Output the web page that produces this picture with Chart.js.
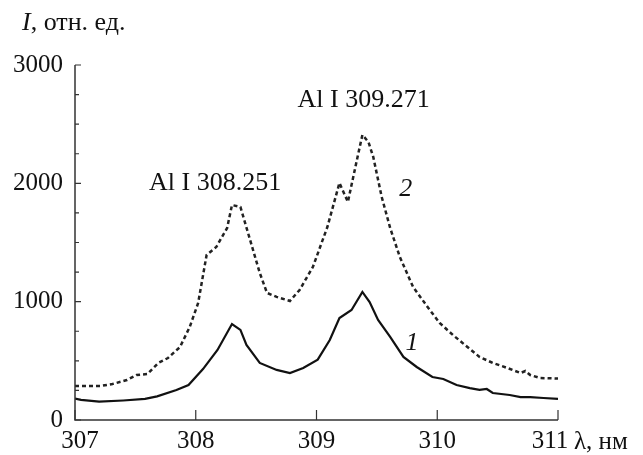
<!DOCTYPE html>
<html lang="ru">
<head>
    <meta charset="UTF-8">
    <title>Al I spectrum</title>
    <script src="https://cdn.jsdelivr.net/npm/chart.js"></script>
    <style>
        html, body { margin: 0; padding: 0; background: #fff; }
        #wrap { width: 643px; height: 455px; }
    </style>
</head>
<body>
<div id="wrap"><canvas id="dataChart"></canvas></div>

<script>
    // wavelength (nm) and intensity
    const wl1 = [307.00, 307.05, 307.20, 307.40, 307.58, 307.68, 307.84, 307.94, 308.06, 308.18, 308.30, 308.37, 308.42, 308.53, 308.67, 308.78, 308.89, 309.01, 309.11, 309.19, 309.29, 309.38, 309.44, 309.51, 309.61, 309.72, 309.83, 309.96, 310.05, 310.16, 310.27, 310.35, 310.41, 310.46, 310.60, 310.69, 310.77, 310.88, 311.00];
    const int1 = [180, 170, 155, 165, 178, 200, 254, 296, 430, 592, 811, 761, 634, 482, 423, 397, 440, 510, 676, 862, 930, 1082, 997, 845, 702, 533, 448, 363, 347, 296, 270, 254, 262, 228, 211, 194, 194, 186, 178];

    const wl2 = [307.00, 307.21, 307.31, 307.43, 307.51, 307.60, 307.69, 307.77, 307.87, 307.95, 308.02, 308.09, 308.17, 308.26, 308.30, 308.37, 308.45, 308.53, 308.59, 308.67, 308.78, 308.86, 308.97, 309.09, 309.19, 309.26, 309.34, 309.38, 309.43, 309.47, 309.54, 309.61, 309.69, 309.80, 309.92, 310.02, 310.13, 310.25, 310.35, 310.46, 310.58, 310.69, 310.73, 310.77, 310.85, 311.00];
    const int2 = [287, 287, 304, 338, 380, 389, 482, 524, 617, 786, 989, 1395, 1462, 1623, 1817, 1800, 1522, 1243, 1074, 1040, 1006, 1099, 1293, 1631, 2003, 1843, 2223, 2409, 2350, 2223, 1885, 1623, 1378, 1124, 955, 820, 718, 617, 533, 482, 440, 397, 414, 380, 355, 350];

    const xTicks = [307, 308, 309, 310, 311];
    const yTicks = [0, 1000, 2000, 3000];

    const labels = [
        { text: 'Al I 308.251', x: 308.16, y: 2000, italic: false },
        { text: 'Al I 309.271', x: 309.39, y: 2700, italic: false },
        { text: '2', x: 309.74, y: 1950, italic: true },
        { text: '1', x: 309.79, y: 650, italic: true }
    ];

    const FONT = '"Liberation Serif", "Times New Roman", serif';

    function toPoints(xs, ys) {
        return xs.map((x, i) => ({ x: x, y: ys[i] }));
    }

    // axes drawn by hand: inward ticks, minor ticks on y, x labels
    const axesPlugin = {
        id: 'axesPlugin',
        afterDraw(chart) {
            const ctx = chart.ctx;
            const xs = chart.scales.x, ys = chart.scales.y;
            const left = xs.left, bottom = ys.bottom;
            ctx.save();
            ctx.strokeStyle = '#333';
            ctx.lineWidth = 1.5;
            ctx.beginPath();
            ctx.moveTo(left, ys.top);
            ctx.lineTo(left, bottom);
            ctx.lineTo(xs.right, bottom);
            ctx.stroke();

            ctx.lineWidth = 1.2;
            ctx.beginPath();
            for (let v = 0; v <= 3000; v += 250) {
                const py = ys.getPixelForValue(v);
                const len = v % 1000 === 0 ? 6 : 4;
                ctx.moveTo(left, py);
                ctx.lineTo(left + len, py);
            }
            xTicks.forEach(v => {
                const px = xs.getPixelForValue(v);
                ctx.moveTo(px, bottom);
                ctx.lineTo(px, bottom - 10);
            });
            ctx.stroke();

            ctx.fillStyle = '#111';
            ctx.textBaseline = 'middle';
            ctx.textAlign = 'center';

            // x tick labels; the end ones sit a little inside
            ctx.font = '25px ' + FONT;
            xTicks.forEach((v, i) => {
                let px = xs.getPixelForValue(v);
                if (i === 0) px += 5;
                if (i === xTicks.length - 1) px -= 8;
                ctx.fillText(String(v), px, bottom + 21);
            });

            labels.forEach(l => {
                ctx.font = (l.italic ? 'italic ' : '') + '26px ' + FONT;
                ctx.fillText(l.text, xs.getPixelForValue(l.x), ys.getPixelForValue(l.y));
            });

            ctx.textAlign = 'left';
            ctx.font = '25px ' + FONT;
            ctx.fillText('\u03bb, \u043d\u043c', xs.right + 16, bottom + 22);

            ctx.font = 'italic 26px ' + FONT;
            ctx.fillText('I', 22, 23);
            const w = ctx.measureText('I').width;
            ctx.font = '26px ' + FONT;
            ctx.fillText(', \u043e\u0442\u043d. \u0435\u0434.', 22 + w, 23);
            ctx.restore();
        }
    };

    const ctx = document.getElementById('dataChart').getContext('2d');
    new Chart(ctx, {
        type: 'line',
        data: {
            datasets: [{
                label: '1',
                data: toPoints(wl1, int1),
                borderColor: '#111',
                borderWidth: 2.2,
                pointRadius: 0,
                fill: false
            }, {
                label: '2',
                data: toPoints(wl2, int2),
                borderColor: '#222',
                borderWidth: 2.5,
                borderDash: [4, 3],
                pointRadius: 0,
                fill: false
            }]
        },
        options: {
            responsive: true,
            maintainAspectRatio: false,
            animation: false,
            layout: { padding: { left: 0, top: 65, right: 85, bottom: 0 } },
            plugins: {
                legend: { display: false },
                tooltip: { enabled: false }
            },
            scales: {
                x: {
                    type: 'linear',
                    min: 307,
                    max: 311,
                    afterBuildTicks: s => { s.ticks = xTicks.map(v => ({ value: v })); },
                    afterFit: s => { s.height = 35; },
                    grid: { display: false, drawTicks: false },
                    border: { display: false },
                    ticks: { display: false }
                },
                y: {
                    min: 0,
                    max: 3000,
                    afterBuildTicks: s => { s.ticks = yTicks.map(v => ({ value: v })); },
                    afterFit: s => { s.width = 75; },
                    grid: { display: false, drawTicks: false },
                    border: { display: false },
                    ticks: {
                        padding: 12,
                        color: '#111',
                        font: { family: FONT, size: 25 },
                        callback: v => String(v)
                    }
                }
            }
        },
        plugins: [axesPlugin]
    });
</script>
</body>
</html>
